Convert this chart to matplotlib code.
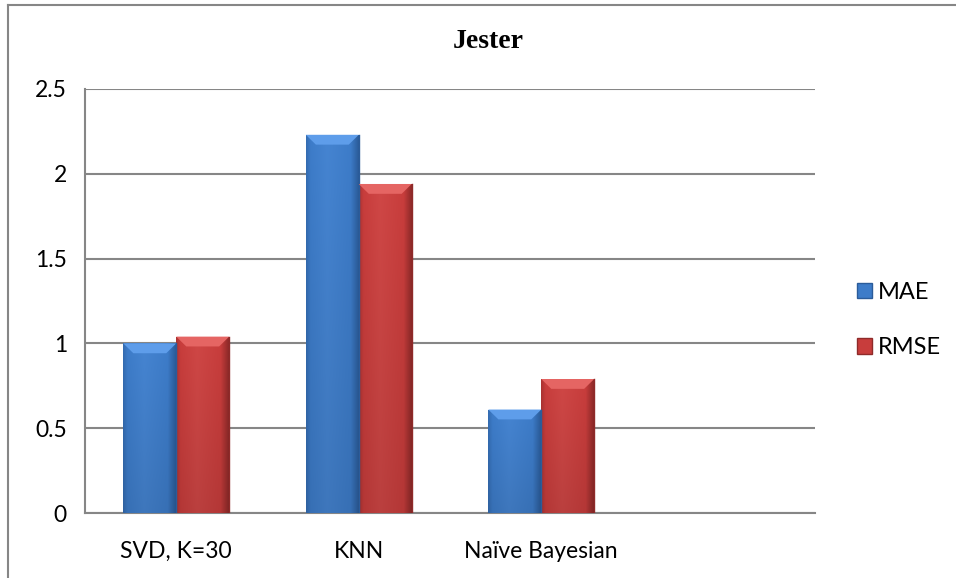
import numpy as np
import matplotlib
matplotlib.use("Agg")
import matplotlib.pyplot as plt
from matplotlib.patches import Polygon, Patch
from matplotlib.lines import Line2D
from matplotlib.colors import to_rgb

# Jester results per method
methods = ["SVD, K=30", "KNN", "Naïve Bayesian", ""]
mae = [1.00, 2.23, 0.61, None]
rmse = [1.04, 1.94, 0.79, None]
series = [("MAE", mae), ("RMSE", rmse)]

# base / light / dark shades for the bevelled bars
shades = {
    "MAE": ("#3D7CC9", "#5E9DEA", "#2B5C9A"),
    "RMSE": ("#C83D3C", "#E56563", "#8F2A29"),
}

W, H, DPI = 956, 578, 100
plt.rcParams["font.family"] = ["Lato", "DejaVu Sans"]

fig = plt.figure(figsize=(W / DPI, H / DPI), dpi=DPI)
ax = fig.add_axes([85 / W, (H - 513) / H, 730 / W, 424 / H])

bar_w = 0.29
x = np.arange(len(methods))


def shade_bar(ax, rect, base, light, dark):
    """Fill a bar with a horizontal gradient and a bevelled top."""
    x0, w, h = rect.get_x(), rect.get_width(), rect.get_height()
    b, l, d = np.array(to_rgb(base)), np.array(to_rgb(light)), np.array(to_rgb(dark))
    t = np.linspace(0, 1, 60)
    prof = np.empty((60, 3))
    for i, v in enumerate(t):
        if v < 0.08:
            c = d * 0.5 + b * 0.5 + (b - d) * 0.5 * (v / 0.08)
        elif v < 0.4:
            c = b + (l - b) * 0.25 * (v - 0.08) / 0.32
        elif v < 0.85:
            c = b + (l - b) * 0.25 * (1 - (v - 0.4) / 0.45)
        else:
            c = b + (d - b) * (v - 0.85) / 0.15
        prof[i] = c
    rows = np.linspace(1.0, 0.9, 40)[:, None, None]
    img = np.clip(prof[None, :, :] * rows, 0, 1)
    im = ax.imshow(img, extent=[x0, x0 + w, 0, h], origin="upper",
                   aspect="auto", zorder=3, interpolation="bilinear")
    im.set_clip_path(rect)
    dx, dy = 0.055, 0.058
    top = Polygon([(x0, h), (x0 + w, h), (x0 + w - dx, h - dy), (x0 + dx, h - dy)],
                  closed=True, facecolor=light, edgecolor="none", zorder=4)
    ax.add_patch(top)
    ax.plot([x0 + w, x0 + w], [0, h], color=dark, lw=1.0, zorder=4)


for k, (name, vals) in enumerate(series):
    base, light, dark = shades[name]
    xs = [xi for xi, v in zip(x, vals) if v is not None]
    vs = [v for v in vals if v is not None]
    offs = (k - 0.5) * bar_w
    bars = ax.bar(np.array(xs) + offs, vs, width=bar_w, color=base,
                  edgecolor="none", zorder=2)
    for rect in bars:
        shade_bar(ax, rect, base, light, dark)

ax.set_xlim(-0.5, len(methods) - 0.5)
ax.set_ylim(0, 2.5)
ax.set_yticks(np.arange(0, 2.51, 0.5))
ax.set_yticklabels(["0", "0.5", "1", "1.5", "2", "2.5"])
ax.set_xticks(x)
ax.set_xticklabels(methods)

grid_c = "#868686"
ax.yaxis.grid(True, color=grid_c, lw=1.5, zorder=0)
ax.set_axisbelow(True)
for s in ["top", "right"]:
    ax.spines[s].set_visible(False)
for s in ["left", "bottom"]:
    ax.spines[s].set_color(grid_c)
    ax.spines[s].set_linewidth(1.5)
ax.tick_params(axis="both", length=0, labelsize=16.5, colors="black")
ax.tick_params(axis="y", pad=13)
ax.tick_params(axis="x", pad=20)

fig.text(488 / W, 1 - 41 / H, "Jester", ha="center", va="center",
         fontsize=20, fontweight="bold", family="Liberation Serif")

handles = [Patch(facecolor=shades[n][0], edgecolor=shades[n][2], label=n)
           for n, _ in series]
fig.legend(handles=handles, loc="center left", bbox_to_anchor=(857 / W, 1 - 320 / H),
           frameon=False, fontsize=17, handlelength=0.65, handleheight=0.65,
           handletextpad=0.25, labelspacing=1.45, borderpad=0, borderaxespad=0)

# outer chart border (left and top only)
fig.add_artist(Line2D([8 / W, 8 / W], [0, 1 - 5 / H], color="#868686", lw=1.5))
fig.add_artist(Line2D([8 / W, 1], [1 - 5 / H, 1 - 5 / H], color="#868686", lw=1.5))

fig.savefig("out.png", dpi=DPI, facecolor="white")
